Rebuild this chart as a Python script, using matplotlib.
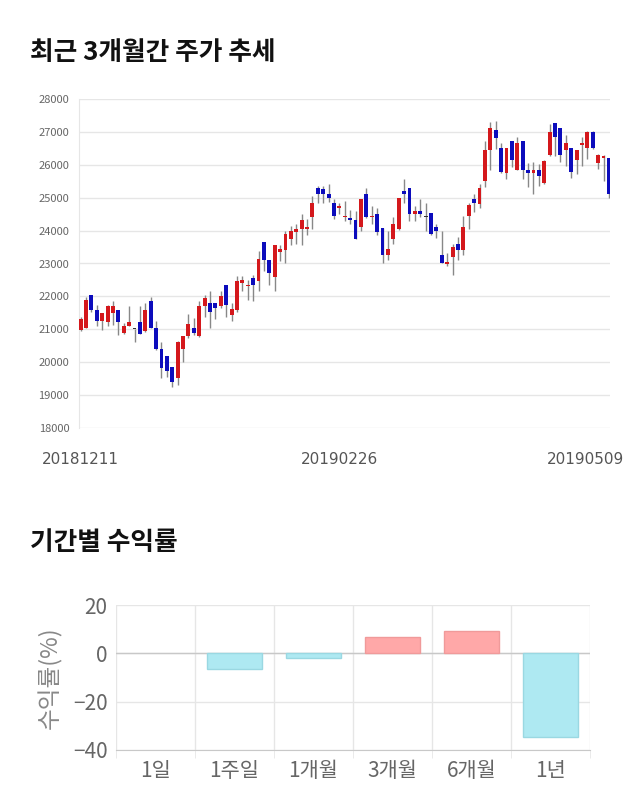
import numpy as np
import matplotlib
matplotlib.use("Agg")
from matplotlib import pyplot as plt
from matplotlib.transforms import ScaledTranslation

plt.rcParams['font.family'] = ['Noto Sans CJK KR', 'DejaVu Sans']

# daily candles, 20181211 .. 20190509
opens = [20980, 21050, 22050, 21590, 21240, 21210, 21510, 21590, 20900, 21100,
         21000, 21210, 20950, 21870, 21050, 20400, 20200, 19860, 19510, 20390,
         20810, 21050, 20810, 21700, 21800, 21800, 21700, 22360, 21440, 21590,
         22410, 22310, 22560, 22460, 23660, 23100, 22590, 23350, 23400, 23750,
         23960, 24060, 24050, 24410, 25310, 25250, 25100, 24850, 24700, 24410,
         24390, 24310, 24100, 25100, 24410, 24490, 24090, 23250, 23750, 24050,
         25200, 25290, 24510, 24590, 24410, 24540, 24100, 23250, 23000, 23200,
         23600, 23400, 24440, 24950, 24820, 25510, 26450, 27050, 26500, 25760,
         26710, 25840, 26710, 25840, 25760, 25840, 25440, 26300, 27260, 27120,
         26450, 26500, 26150, 26610, 26500, 27010, 26050, 26220, 26200]
highs = [21360, 21980, 22050, 21750, 21490, 21750, 21850, 21590, 21190, 21720,
         21010, 21720, 21800, 21970, 21240, 20610, 20200, 19860, 20650, 20810,
         21460, 21340, 21850, 22030, 22150, 21800, 22150, 22360, 21800, 22610,
         22610, 22510, 22640, 23370, 23660, 23100, 23560, 23560, 23980, 24130,
         24210, 24510, 24340, 25050, 25360, 25360, 25410, 24950, 24850, 24900,
         24640, 24610, 24950, 25310, 24750, 24700, 24090, 23980, 24410, 25000,
         25560, 25290, 24750, 24950, 24850, 24540, 24210, 23980, 23320, 23580,
         23800, 24440, 24850, 25100, 25410, 26710, 27290, 27340, 26650, 26500,
         26710, 26850, 26710, 26040, 26100, 26020, 26140, 27240, 27260, 27120,
         26910, 26500, 26450, 26860, 27030, 27030, 26340, 26300, 26200]
lows = [20950, 21030, 21540, 21110, 20980, 21090, 21140, 20830, 20850, 21090,
        20610, 20850, 20930, 21030, 20370, 19510, 19560, 19250, 19300, 20000,
        20730, 20830, 20780, 21360, 21050, 21310, 21640, 21360, 21240, 21540,
        22150, 21900, 21850, 22150, 22760, 22360, 22150, 23070, 23020, 23560,
        23600, 23560, 23860, 24060, 24850, 24850, 24880, 24340, 24490, 24290,
        24190, 23750, 23980, 24390, 24190, 23860, 23020, 23120, 23580, 24030,
        24850, 24290, 24290, 24410, 23980, 23880, 23780, 23000, 22920, 22660,
        23120, 23270, 24060, 24570, 24680, 25330, 25830, 26470, 25760, 25560,
        25920, 25830, 25560, 25330, 25120, 25360, 25410, 26270, 26270, 26100,
        25970, 25610, 25730, 25970, 26170, 26470, 25860, 25510, 25000]
closes = [21310, 21900, 21590, 21240, 21490, 21720, 21710, 21210, 21100, 21210,
          21000, 20850, 21590, 21050, 20400, 19830, 19740, 19410, 20610, 20810,
          21160, 20880, 21700, 21950, 21540, 21640, 22000, 21750, 21610, 22460,
          22510, 22360, 22360, 23150, 23100, 22700, 23560, 23450, 23900, 24000,
          24060, 24310, 24110, 24850, 25100, 25100, 25000, 24440, 24750, 24440,
          24310, 23750, 24950, 24410, 24440, 23960, 23250, 23440, 24210, 25000,
          25100, 24510, 24590, 24510, 24410, 23900, 24000, 23020, 23050, 23500,
          23400, 24100, 24770, 24850, 25310, 26450, 27120, 26810, 25790, 26500,
          26150, 26660, 25840, 25760, 25840, 25660, 26120, 27000, 26860, 26300,
          26660, 25790, 26450, 26660, 27010, 26500, 26300, 26270, 25100]
date_ticks = [0, 49, 98]
date_labels = ["20181211", "20190226", "20190509"]

# returns by period
periods = ["1일", "1주일", "1개월", "3개월", "6개월", "1년"]
returns = [0.0, -6.3, -2.0, 6.8, 9.1, -34.6]

UP = "#d4181c"
DOWN = "#0c0cbc"
GRID = "#e6e6e6"
TXT = "#666666"

fig = plt.figure(figsize=(6.4, 8.1), dpi=100)

fig.text(30 / 640, 1 - 52 / 810, "최근 3개월간 주가 추세", fontsize=18.5,
         fontweight="bold", color="#111111", va="center", ha="left")
fig.text(30 / 640, 1 - 543 / 810, "기간별 수익률", fontsize=18.5,
         fontweight="bold", color="#111111", va="center", ha="left")

# candle chart
ax = fig.add_axes([79 / 640, 1 - 428 / 810, 531 / 640, 329 / 810])
o = np.array(opens)
c = np.array(closes)
h = np.array(highs)
l = np.array(lows)
x = np.arange(len(o))
colors = []
for oo, cc in zip(o, c):
    if cc > oo:
        colors.append(UP)
    elif cc < oo:
        colors.append(DOWN)
    else:
        colors.append("#333333")
ax.vlines(x, l, h, color="#888888", linewidth=1, zorder=2)
body_lo = np.minimum(o, c)
body_h = np.maximum(np.abs(c - o), 25)
ax.bar(x, body_h, bottom=body_lo, width=0.72, color=colors, linewidth=0, zorder=3)

ax.set_xlim(-0.3, 98.2)
ax.set_ylim(18000, 28000)
ax.set_yticks(np.arange(18000, 28001, 1000))
ax.yaxis.grid(True, color=GRID, linewidth=1)
ax.set_axisbelow(True)
for s in ["top", "right", "bottom"]:
    ax.spines[s].set_visible(False)
ax.spines["left"].set_color(GRID)
ax.tick_params(axis="y", length=0, labelsize=8, labelcolor=TXT, pad=7)
ax.set_xticks(date_ticks)
ax.set_xticklabels(date_labels, fontsize=11, color="#555555",
                   family=["DejaVu Sans"])
ax.tick_params(axis="x", length=0, pad=17)
labs = ax.get_xticklabels()
labs[1].set_transform(labs[1].get_transform()
                      + ScaledTranslation(-0.05, 0, fig.dpi_scale_trans))
labs[-1].set_transform(labs[-1].get_transform()
                       + ScaledTranslation(-0.23, 0, fig.dpi_scale_trans))

# returns bar chart
ax2 = fig.add_axes([116 / 640, 1 - 750 / 810, 474 / 640, 145 / 810])
xb = np.arange(len(periods))
bcol = ["#ffa8a8" if r > 0 else "#aee9f2" for r in returns]
ecol = ["#f09a9a" if r > 0 else ("#9ad8e2" if r < 0 else "none") for r in returns]
ax2.bar(xb, returns, width=0.69, color=bcol, edgecolor=ecol, linewidth=1, zorder=3)
ax2.set_xlim(-0.5, len(periods) - 0.5)
ax2.set_ylim(-40, 20)
ax2.set_yticks([-40, -20, 0, 20])
ax2.yaxis.grid(True, color=GRID, linewidth=1)
ax2.axhline(0, color="#c8c8c8", linewidth=1, zorder=2)
ax2.set_xticks(xb)
ax2.set_xticklabels(periods)
ax2.set_xticks(np.arange(-0.5, len(periods)), minor=True)
ax2.xaxis.grid(True, which="minor", color=GRID, linewidth=1)
ax2.tick_params(axis="x", which="major", length=0, labelsize=15,
                labelcolor=TXT, pad=7)
ax2.tick_params(axis="x", which="minor", length=6, color=GRID)
ax2.tick_params(axis="y", length=0, labelsize=15, labelcolor=TXT, pad=6)
for s in ["top", "right", "left"]:
    ax2.spines[s].set_visible(False)
ax2.spines["bottom"].set_color("#c8c8c8")
ax2.set_axisbelow(True)
ax2.set_ylabel("수익률(%)", fontsize=17, color="#888888", labelpad=8)

fig.savefig("out.png", dpi=100)
